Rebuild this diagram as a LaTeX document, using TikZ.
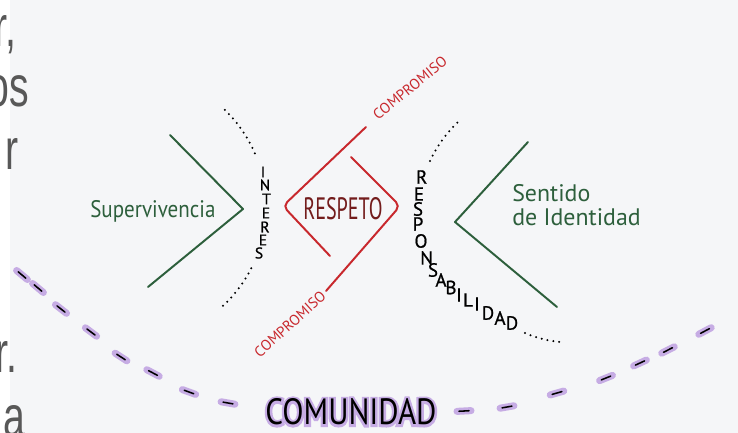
\documentclass[tikz,border=0pt]{standalone}
\usepackage{fontspec}
\setmainfont{PT Sans}
\newfontfamily\slidefont[FakeStretch=0.68]{Liberation Sans}
\newfontfamily\inkfont[FakeBold=0.8]{PT Sans}
\newfontfamily\narrowfont[FakeStretch=0.65]{PT Sans}
\newfontfamily\comfont[FakeStretch=0.85]{PT Sans}
\newfontfamily\halofont[FakeStretch=0.85,FakeBold=13]{PT Sans}
\newfontfamily\greenfont[FakeStretch=0.88]{PT Sans}
\usetikzlibrary{positioning,calc}
\definecolor{PaperGray}{RGB}{245,246,248}
\definecolor{SlideGray}{RGB}{88,88,88}
\definecolor{LeafGreen}{RGB}{45,95,60}
\definecolor{MarkRed}{RGB}{200,40,45}
\definecolor{DeepRed}{RGB}{115,28,28}
\definecolor{Lilac}{RGB}{198,172,228}
\tikzset{
  chevron/.style={draw=LeafGreen,line width=1.4pt,line cap=round,line join=round},
  redline/.style={draw=MarkRed,line width=1.4pt,line cap=round,rounded corners=4pt},
  dots/.style={line width=1.6pt,line cap=round,dash pattern=on 0pt off 4.2pt},
  greentext/.style={text=LeafGreen,inner sep=0pt,font=\fontsize{17}{17}\selectfont},
}
\tikzset{lt/.style={inner sep=0pt,font=\inkfont\fontsize{11}{11}\selectfont}, bigl/.style={inner sep=0pt,font=\inkfont\fontsize{13.5}{13.5}\selectfont},promise/.style={text=MarkRed,inner sep=0pt,font=\fontsize{10.5}{10.5}\selectfont},slidetext/.style={text=SlideGray,inner sep=0pt,font=\slidefont\fontsize{41}{41}\selectfont}}

\begin{document}
\begin{tikzpicture}[x=0.025cm,y=-0.025cm]
\useasboundingbox (0,0) rectangle (738,433);
\fill[white] (0,0) rectangle (738,433);
\fill[PaperGray] (10,0) rectangle (738,433);
% slide text cut at the left edge
\begin{scope}
\clip (0,0) rectangle (738,433);
\node[slidetext,anchor=base east] (sl1) at (17,47) {r,};
\node[slidetext,anchor=base east] (sl2) at (29,107) {os};
\node[slidetext,anchor=base east] (sl3) at (19,170) {r};
\node[slidetext,anchor=base east] (sl4) at (18,372) {r.};
\node[slidetext,anchor=base east] (sl5) at (26,436) {a};
\end{scope}
\coordinate (gla) at (170,135);
\coordinate (glb) at (243,209);
\coordinate (glc) at (148,287);
\coordinate (gra) at (528,142);
\coordinate (grb) at (455,222);
\coordinate (grc) at (557,307);
\coordinate (rlt) at (366,127);
\coordinate (rlm) at (283,206);
\coordinate (rlb) at (330,256);
\coordinate (rrt) at (351,157);
\coordinate (rrm) at (400,206);
\coordinate (rrb) at (326,291);
\draw[chevron] (gla)--(glb)--(glc);
\draw[chevron] (gra)--(grb)--(grc);
\draw[redline] (rlt)--(rlm)--(rlb);
\draw[redline] (rrt)--(rrm)--(rrb);
\node[greentext,font=\greenfont\fontsize{17}{17}\selectfont,anchor=base west] (surv) at (90,218) {Supervivencia};
\node[greentext,anchor=base west] (sent) at (512,201) {Sentido};
\node[greentext,anchor=base west] (ident) at (512,226) {de Identidad};
\node[text=DeepRed,inner sep=0pt,font=\narrowfont\fontsize{22}{22}\selectfont] (resp) at (343,209) {RESPETO};
\node[promise,rotate=39] (comp1) at (410,88) {COMPROMISO};
\node[promise,rotate=42] (comp2) at (290,324) {COMPROMISO};
% interes
\draw[dots] plot[domain=-46:-21,samples=20] ({131+135*cos(\x)},{207+135*sin(\x)});
\draw[dots] plot[domain=27:49,samples=20] ({131+135*cos(\x)},{207+135*sin(\x)});
\foreach \l/\x/\y [count=\i] in {I/263/172,N/265/185,T/266.5/199,E/266/213,R/265/227,E/263/240,S/259/253}
  \node[lt] (int\i) at (\x,\y) {\l};
% responsabilidad
\draw[dots] plot[domain=205:227,samples=20] ({546+128*cos(\x)},{215+128*sin(\x)});
\draw[dots] (525,333) to[bend right=8] (560,342);
\foreach \l/\x/\y [count=\i] in {R/421.7/177,E/419/194,S/418/209,P/418/224,O/421/241,N/426.7/258,S/433/270,A/441/280,B/451/287.5,I/459/295,L/468/300,I/477/304,D/488/313,A/500/318,D/512/323}
  \node[bigl] (res\i) at (\x,\y) {\l};
% comunidad
\foreach \x/\y/\a in {22/275/40,38/288/40,61/309/38,91/332/37,121/357/33,153/373/28,189/392/20,228/403/10,464/411/-3,507/407/-10,557/393/-16,606/378/-22,640/363/-25,668/350/-27,705/331/-28}{
  \draw[Lilac,line width=5pt,line cap=round] ({\x-7*cos(\a)},{\y-7*sin(\a)})--({\x+7*cos(\a)},{\y+7*sin(\a)});
  \draw[black,line width=1.1pt,line cap=round] ({\x-5*cos(\a)},{\y-5*sin(\a)})--({\x+5*cos(\a)},{\y+5*sin(\a)});
}
\node[text=Lilac,inner sep=0pt,font=\halofont\fontsize{26}{26}\selectfont] (comh) at (351,412) {COMUNIDAD};
\node[inner sep=0pt,font=\comfont\fontsize{26}{26}\selectfont] (com) at (351,412) {COMUNIDAD};
\end{tikzpicture}
\end{document}
